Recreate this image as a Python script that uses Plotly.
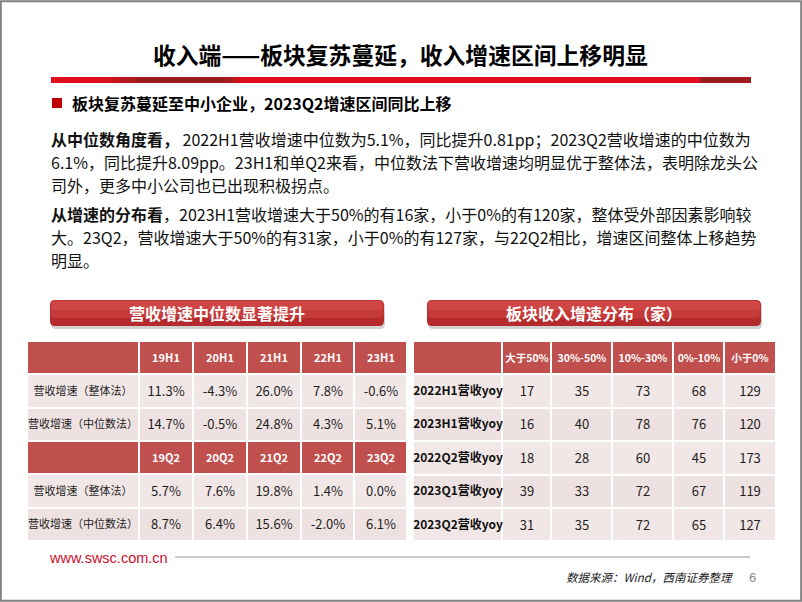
import plotly.graph_objects as go

W, H = 802, 602
FONT = "Noto Sans CJK SC, sans-serif"

# ---- data: left table (营收增速中位数显著提升)
periods_h1 = ["19H1", "20H1", "21H1", "22H1", "23H1"]
overall_h1 = [11.3, -4.3, 26.0, 7.8, -0.6]
median_h1 = [14.7, -0.5, 24.8, 4.3, 5.1]
periods_q2 = ["19Q2", "20Q2", "21Q2", "22Q2", "23Q2"]
overall_q2 = [5.7, 7.6, 19.8, 1.4, 0.0]
median_q2 = [8.7, 6.4, 15.6, -2.0, 6.1]
method_labels = ["营收增速（整体法）", "营收增速（中位数法）"]

# ---- data: right table (板块收入增速分布（家）)
buckets = ["大于50%", "30%-50%", "10%-30%", "0%-10%", "小于0%"]
dist_rows = ["2022H1营收yoy", "2023H1营收yoy", "2022Q2营收yoy", "2023Q1营收yoy", "2023Q2营收yoy"]
gt50 = [17, 16, 18, 39, 31]
p30_50 = [35, 40, 28, 33, 35]
p10_30 = [73, 78, 60, 72, 72]
p0_10 = [68, 76, 45, 67, 65]
lt0 = [129, 120, 173, 119, 127]

HEAD_RED = "#C0504D"
ROW_A = "#F2E7E7"
ROW_B = "#EEE1E1"
CELL_SCALE = [[0, HEAD_RED], [0.5, ROW_A], [1, ROW_B]]

# table grid (pixel edges on the page-sized axes)
LEFT_X = [27, 139, 193, 247, 301, 354, 407]
RIGHT_X = [413, 502, 551, 612, 673, 724, 776]


def fx(v):
    return v / W


def fy(v):
    return 1 - v / H


fig = go.Figure()


def block(x_edges, y_edges, text, kind, size, color, bold=False):
    nrows = len(y_edges) - 1
    z = [[0 if kind == "head" else 1 + i % 2] * (len(x_edges) - 1) for i in range(nrows)]
    tpl = "<b>%{text}</b>" if bold else "%{text}"
    fig.add_trace(go.Heatmap(
        x=x_edges, y=y_edges, z=z, text=text, texttemplate=tpl,
        textfont=dict(family=FONT, size=size, color=color),
        colorscale=CELL_SCALE, zmin=0, zmax=2, showscale=False,
        xgap=2, ygap=2, hoverinfo="skip"))


def pct(vals):
    return [f"{v:.1f}%" for v in vals]


# left table, half-year block
block(LEFT_X, [341, 374], [[""] + periods_h1], "head", 11, "white", True)
block(LEFT_X[:2], [374, 407.5, 441], [[m] for m in method_labels], "body", 11, "#1e1e1e")
block(LEFT_X[1:], [374, 407.5, 441], [pct(overall_h1), pct(median_h1)], "body", 13, "#1e1e1e")
# left table, Q2 block
block(LEFT_X, [441, 474], [[""] + periods_q2], "head", 11, "white", True)
block(LEFT_X[:2], [474, 507.5, 541], [[m] for m in method_labels], "body", 11, "#1e1e1e")
block(LEFT_X[1:], [474, 507.5, 541], [pct(overall_q2), pct(median_q2)], "body", 13, "#1e1e1e")

# right table
right_y = [374, 407.5, 441, 474.5, 508, 541]
block(RIGHT_X, [341, 374], [[""] + buckets], "head", 10.5, "white", True)
block(RIGHT_X[:2], right_y, [[r] for r in dist_rows], "body", 12, "#111111", True)
block(RIGHT_X[1:], right_y,
      [[str(v) for v in row] for row in zip(gt50, p30_50, p10_30, p0_10, lt0)],
      "body", 13, "#1e1e1e")

shapes = []


def rect(x0, y0, x1, y1, color):
    shapes.append(dict(type="rect", xref="paper", yref="paper",
                       x0=fx(x0), x1=fx(x1), y0=fy(y1), y1=fy(y0),
                       fillcolor=color, line=dict(width=0), layer="below"))


def blend(c0, c1, t):
    a = [int(c0[i:i + 2], 16) for i in (1, 3, 5)]
    b = [int(c1[i:i + 2], 16) for i in (1, 3, 5)]
    return "#" + "".join(f"{round(a[k] + (b[k] - a[k]) * t):02x}" for k in range(3))


def grad(x0, x1, y0, y1, c0, c1, n=8):
    step = (x1 - x0) / n
    for i in range(n):
        rect(x0 + i * step, y0, x0 + (i + 1) * step + 0.5, y1, blend(c0, c1, (i + 0.5) / n))


def rounded(x0, y0, x1, y1, r, color):
    rx, ry = r / W, r / H
    a, b, c, d = fx(x0), fx(x1), fy(y0), fy(y1)
    path = (f"M {a + rx},{c} L {b - rx},{c} Q {b},{c} {b},{c - ry} "
            f"L {b},{d + ry} Q {b},{d} {b - rx},{d} L {a + rx},{d} "
            f"Q {a},{d} {a},{d + ry} L {a},{c - ry} Q {a},{c} {a + rx},{c} Z")
    shapes.append(dict(type="path", xref="paper", yref="paper", path=path,
                       fillcolor=color, line=dict(width=0), layer="below"))


# title underline
BRIGHT, DARK = "#E2101E", "#9C1B1C"
rect(51, 77, 751, 83, BRIGHT)
grad(100, 140, 77, 83, BRIGHT, DARK)
rect(139, 77, 226, 83, DARK)
grad(225, 245, 77, 83, DARK, BRIGHT)
rect(700, 77, 751, 83, DARK)

# bullet square
rect(52, 98, 62, 108, "#C00000")

# banners with shadow and a soft vertical shading
for bx0, bx1 in [(50, 384), (427, 761)]:
    rounded(bx0 + 1, 302, bx1 + 1, 329, 5, "rgba(0,0,0,0.18)")
    rounded(bx0, 300, bx1, 326, 5, "#B52A2C")
    rounded(bx0 + 0.5, 300.5, bx1 - 0.5, 318, 5, "#C63A3A")
    rounded(bx0 + 1, 301, bx1 - 1, 310, 4, "#D04646")

# footer line
shapes.append(dict(type="line", xref="paper", yref="paper", x0=fx(175), x1=fx(750),
                   y0=fy(557), y1=fy(557), line=dict(color="#CACACA", width=2)))

# slide frame
shapes.append(dict(type="rect", xref="paper", yref="paper", x0=0.001, x1=0.999,
                   y0=0.002, y1=0.998, line=dict(color="#808080", width=2)))

annotations = []


def text(x, y, s, size, color="#111111", anchor="left", family=FONT):
    annotations.append(dict(x=fx(x), y=fy(y), xref="paper", yref="paper", text=s,
                            showarrow=False, xanchor=anchor, yanchor="middle",
                            font=dict(family=family, size=size, color=color)))


text(400, 54, "<b>收入端——板块复苏蔓延，收入增速区间上移明显</b>", 22.8, "#000000", "center")
text(70, 103, "<b>板块复苏蔓延至中小企业，2023Q2增速区间同比上移</b>", 16, "#000000")

body = [
    (139, "<b>从中位数角度看，</b> 2022H1营收增速中位数为5.1%，同比提升0.81pp；2023Q2营收增速的中位数为"),
    (162, "6.1%，同比提升8.09pp。23H1和单Q2来看，中位数法下营收增速均明显优于整体法，表明除龙头公"),
    (185, "司外，更多中小公司也已出现积极拐点。"),
    (214, "<b>从增速的分布看</b>，2023H1营收增速大于50%的有16家，小于0%的有120家，整体受外部因素影响较"),
    (237, "大。23Q2，营收增速大于50%的有31家，小于0%的有127家，与22Q2相比，增速区间整体上移趋势"),
    (260, "明显。"),
]
for y, s in body:
    text(49, y, s, 16)

text(217, 313, "<b>营收增速中位数显著提升</b>", 16, "white", "center")
text(594, 313, "<b>板块收入增速分布（家）</b>", 16, "white", "center")

text(47, 558, "www.swsc.com.cn", 14.5, "#C8102E", "left", "Liberation Sans, Arial")
text(735, 577, "<i>数据来源：Wind，西南证券整理</i>", 11.5, "#222222", "right")
text(752, 577, "6", 13, "#8C8C8C", "center", "Liberation Sans, Arial")

fig.update_layout(
    width=W, height=H,
    margin=dict(l=0, r=0, t=0, b=0),
    paper_bgcolor="white", plot_bgcolor="white",
    xaxis=dict(range=[0, W], visible=False, fixedrange=True),
    yaxis=dict(range=[H, 0], visible=False, fixedrange=True),
    shapes=shapes, annotations=annotations,
    showlegend=False,
)

fig.write_html("out.html", config={"displayModeBar": False},
               post_script="document.body.style.margin='0';")
